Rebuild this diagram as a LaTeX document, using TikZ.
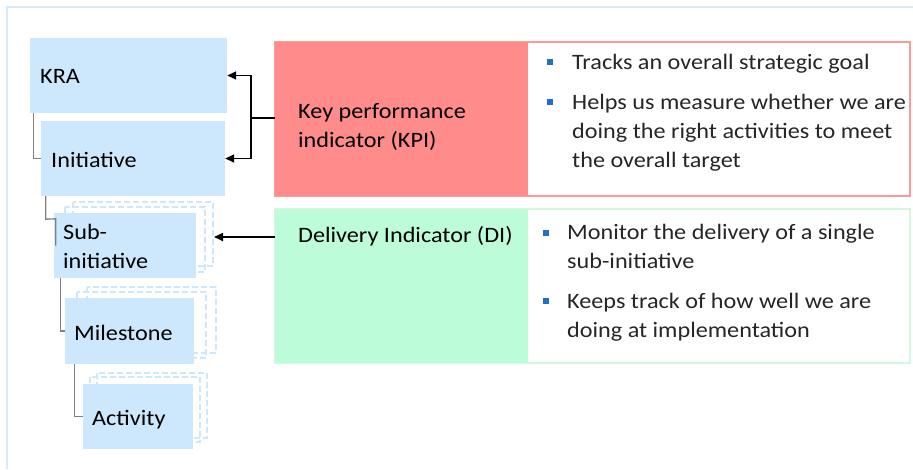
\documentclass[tikz,border=0pt]{standalone}
\usepackage{fontspec}
\setmainfont{Carlito}[FakeStretch=1.1]
\usetikzlibrary{arrows.meta,calc}
\definecolor{boxblue}{HTML}{CDE8FC}
\definecolor{frameblue}{HTML}{D5EBFB}
\definecolor{kpired}{HTML}{FF8C8A}
\definecolor{kpiline}{HTML}{FF9A98}
\definecolor{digreen}{HTML}{BCFCD8}
\definecolor{digreenline}{HTML}{D3F7E0}
\definecolor{bulletblue}{HTML}{1F70C8}
\definecolor{conn}{HTML}{808080}
\definecolor{bodytext}{HTML}{262626}
\begin{document}
\begin{tikzpicture}[x=1pt,y=-1pt,
  lvlbox/.style={fill=boxblue,draw=none,inner sep=0pt,rectangle},
  shadow/.style={draw=boxblue,dashed,dash pattern=on 6pt off 3pt,line width=1.6pt},
  lbl/.style={anchor=base west,inner sep=0pt,font=\fontsize{22}{29}\selectfont,text=black,align=left},
  body/.style={anchor=base west,inner sep=0pt,font=\fontsize{22}{29}\selectfont,text=bodytext,align=left},
  bul/.style={fill=bulletblue,draw=none,minimum size=5.5pt,inner sep=0pt,rectangle},
  tree/.style={draw=conn,line width=1.3pt},
  arr/.style={draw=black,line width=1.6pt,-{Triangle[length=9pt,width=8pt]}}
]
\useasboundingbox (0,0) rectangle (913,469);
\fill[white] (0,0) rectangle (913,469);
% outer frame (only top and left edges visible)
\draw[frameblue,line width=2pt] (7,469) -- (7,7) -- (913,7);

% dashed stacks
\draw[shadow] (73,202) rectangle (213,266);
\draw[shadow] (65,207) rectangle (205,272);
\draw[shadow] (87,287) rectangle (216,353);
\draw[shadow] (77,292) rectangle (206,358);
\draw[shadow] (97,373) rectangle (207,438);
\draw[shadow] (90,377) rectangle (200,442);

% level boxes
\node[lvlbox,minimum width=197pt,minimum height=75pt] (kra) at (128.5,75.5) {};
\node[lvlbox,minimum width=184pt,minimum height=75pt] (init) at (133,158.5) {};
\node[lvlbox,minimum width=142pt,minimum height=65pt] (sub) at (125,245.5) {};
\node[lvlbox,minimum width=129pt,minimum height=66pt] (mile) at (129.5,331) {};
\node[lvlbox,minimum width=110pt,minimum height=65pt] (act) at (138,416.5) {};

% labels (base = baseline of the last line)
\node[lbl] (kral) at (40,83) {KRA};
\node[lbl] (initl) at (51,167) {Initiative};
\node[lbl] (subl) at (63,268) {Sub-\\initiative};
\node[lbl] (milel) at (74,340) {Milestone};
\node[lbl] (actl) at (92,425) {Activity};

% tree connectors
\draw[tree] ($(kra.south west)+(4,0)$) |- (init.west);
\draw[tree] ($(init.south west)+(5,0)$) -- ($(init.south west)+(5,23)$) -- ($(sub.north west)+(2,6)$) -- ($(sub.west)+(2,0)$);
\draw[tree] ($(sub.south west)+(7,0)$) |- (mile.west);
\draw[tree] ($(mile.south west)+(10,0)$) |- (act.west);

% KPI box
\node[rectangle,draw=kpiline,line width=2pt,fill=white,minimum width=635pt,minimum height=154pt,inner sep=0pt,outer sep=0pt] (kpi) at (592.5,119) {};
\fill[kpired] (kpi.north west) rectangle ($(kpi.south west)+(253,0)$);
\node[lbl] (kpil) at (298,147) {Key performance\\indicator (KPI)};

% DI box
\node[rectangle,draw=digreenline,line width=2pt,fill=white,minimum width=635pt,minimum height=154pt,inner sep=0pt,outer sep=0pt] (di) at (592.5,286) {};
\fill[digreen] (di.north west) rectangle ($(di.south west)+(253,0)$);
\node[lbl] (dil) at (298,242) {Delivery Indicator (DI)};

% KPI bullets
\node[bul] (kb1) at (550,62) {};
\node[body] (kt1) at (572,69) {Tracks an overall strategic goal};
\node[bul] (kb2) at (550,102) {};
\node[body] (kt2) at (572,167) {Helps us measure whether we are\\doing the right activities to meet\\the overall target};

% DI bullets
\node[bul] (db1) at (546,233) {};
\node[body] (dt1) at (567,268) {Monitor the delivery of a single\\sub-initiative};
\node[bul] (db2) at (546,301) {};
\node[body] (dt2) at (567,337) {Keeps track of how well we are\\doing at implementation};

% arrows
\coordinate (kj) at ($(kpi.west)+(-24,-1)$);
\draw[line width=1.6pt] ($(kpi.west)+(0,-1)$) -- (kj);
\draw[arr] (kj) |- (kra.east);
\draw[arr] (kj) |- (init.east);
\coordinate (diout) at ($(di.north west)+(0,28)$);
\coordinate (subtip) at (214,237);
\draw[arr] (diout) -- (subtip);
\end{tikzpicture}
\end{document}
